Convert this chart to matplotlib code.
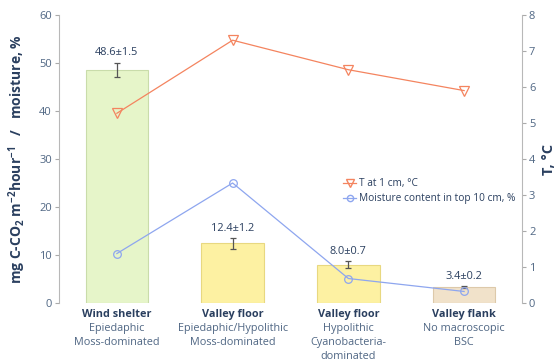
import numpy as np
import matplotlib
matplotlib.use('Agg')
import matplotlib.pyplot as plt
from matplotlib.lines import Line2D

plt.rcParams['font.family'] = ['Open Sans', 'DejaVu Sans']
plt.rcParams['mathtext.fontset'] = 'custom'
plt.rcParams['mathtext.rm'] = 'Open Sans:bold'
plt.rcParams['mathtext.it'] = 'Open Sans:bold'
plt.rcParams['mathtext.bf'] = 'Open Sans:bold'

# Datos por sitio
sitios = ['Wind shelter', 'Valley floor', 'Valley floor', 'Valley flank']
descripcion = ['Epiedaphic\nMoss-dominated',
               'Epiedaphic/Hypolithic\nMoss-dominated',
               'Hypolithic\nCyanobacteria-\ndominated',
               'No macroscopic\nBSC']
respiracion = [48.6, 12.4, 8.0, 3.4]
error_resp = [1.5, 1.2, 0.7, 0.2]
temperatura = [5.27, 7.3, 6.48, 5.9]
humedad = [10.3, 25.0, 5.1, 2.4]

colores_barras = ['#e6f5c9', '#fdf1a2', '#fdf1a2', '#f1e2ca']
bordes_barras = ['#c9dcaa', '#e8d880', '#e8d880', '#ddc9aa']
azul_oscuro = '#2a3f5f'
gris_ticks = '#506784'
color_T = '#f4845f'
color_H = '#8ea6ef'

fig = plt.figure(figsize=(5.56, 3.62), dpi=100)
ax = fig.add_axes([59/556, 1-303/362, 463/556, 288/362])
ax2 = ax.twinx()

x = np.arange(len(sitios))

# Barras de respiración con error
ax.bar(x, respiracion, width=0.54, color=colores_barras, edgecolor=bordes_barras, linewidth=0.8, zorder=1)
ax.errorbar(x, respiracion, yerr=error_resp, fmt='none', ecolor='#555555', elinewidth=0.9, capsize=2.5, capthick=0.9, zorder=3)
for xi, v, e in zip(x, respiracion, error_resp):
    ax.annotate('%.1f±%.1f' % (v, e), (xi, v + e), xytext=(0, 3), textcoords='offset points',
                ha='center', va='bottom', fontsize=7.9, color=azul_oscuro)

# Humedad en el eje izquierdo
ax.plot(x, humedad, color=color_H, lw=0.9, marker='o', ms=5.5, mfc='none', mec=color_H, mew=0.9, zorder=4)
# Temperatura en el eje derecho
ax2.plot(x, temperatura, color=color_T, lw=0.9, marker='v', ms=6.5, mfc='none', mec=color_T, mew=0.9, zorder=4)

ax.set_xlim(-0.5, 3.5)
ax.set_ylim(0, 60)
ax2.set_ylim(0, 8)
ax.set_yticks(range(0, 61, 10))
ax2.set_yticks(range(0, 9))

for a in (ax, ax2):
    a.spines['top'].set_visible(False)
    a.spines['bottom'].set_visible(False)
    a.spines['left'].set_color('#b8b8b8')
    a.spines['right'].set_color('#b8b8b8')
    a.tick_params(axis='y', colors='#aaaaaa', labelcolor=gris_ticks, labelsize=8, length=3, width=0.8, pad=2)
ax.spines['right'].set_visible(False)
ax2.spines['left'].set_visible(False)
ax.set_xticks([])

ax.set_ylabel(r'mg C-CO$_2$ m$^{-2}$hour$^{-1}$   /   moisture, %', fontsize=10, fontweight='bold',
              color=azul_oscuro, labelpad=8)
ax2.set_ylabel('T, °C', fontsize=10.5, fontweight='bold', color=azul_oscuro, labelpad=5)

# Etiquetas de categoría
for xi, s, d in zip(x, sitios, descripcion):
    ax.annotate(s, (xi, 0), xytext=(0, -4), textcoords='offset points', ha='center', va='top',
                fontsize=7.8, fontweight='bold', color=azul_oscuro, annotation_clip=False)
    ax.annotate(d, (xi, 0), xytext=(0, -14.3), textcoords='offset points', ha='center', va='top',
                fontsize=7.8, color=gris_ticks, linespacing=1.36, annotation_clip=False)

handles = [Line2D([], [], color=color_T, lw=0.9, marker='v', ms=5.5, mfc='none', mec=color_T),
           Line2D([], [], color=color_H, lw=0.9, marker='o', ms=4.5, mfc='none', mec=color_H)]
ax2.legend(handles, ['T at 1 cm, °C', 'Moisture content in top 10 cm, %'], loc='upper left',
           bbox_to_anchor=(0.594, 0.465), frameon=False, fontsize=7.3, handlelength=1.3,
           handletextpad=0.3, labelspacing=0.4, labelcolor=azul_oscuro)

fig.savefig('out.png', dpi=100)
